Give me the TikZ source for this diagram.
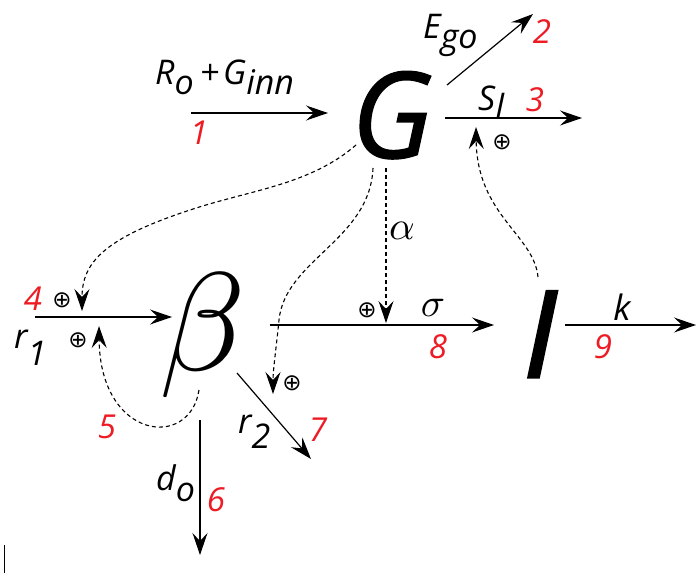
\documentclass[tikz,border=0pt]{standalone}
\usepackage{graphicx}
\usepackage{fontspec}
\setmainfont{Open Sans}
\newfontfamily\heavyfont[FakeBold=2.5]{Open Sans}
\newfontfamily\gfont[FakeBold=1]{Open Sans}
\newfontfamily\symfont{DejaVu Sans}
\usetikzlibrary{arrows.meta,calc}
\definecolor{numred}{RGB}{237,28,36}
\tikzset{
 arr/.style={line width=1.2pt, -{Stealth[length=22pt,width=15pt,inset=8pt]}},
 darr/.style={line width=1.1pt, dash pattern=on 4pt off 3pt, -{Stealth[length=22pt,width=15pt,inset=8pt]}},
 lbl/.style={inner sep=0pt, anchor=base west, font=\fontsize{34}{34}\selectfont\itshape},
 num/.style={inner sep=0pt, text=numred, font=\fontsize{33}{33}\selectfont\itshape},
 opl/.style={inner sep=0pt, font=\symfont\fontsize{23}{23}\selectfont},
 greek/.style={inner sep=0pt},
 bigletter/.style={inner sep=0pt, anchor=base, font=\gfont\fontsize{120}{120}\selectfont\itshape},
}
\newcommand\lsub[2][0.3em]{\raisebox{-#1}{#2}}
\newcommand\opl{⊕}
\begin{document}
\begin{tikzpicture}[x=1pt,y=-1pt]
\useasboundingbox (0,0) rectangle (696,573);
% main nodes
\node[bigletter] (G) at (392,158) {G};
\node[bigletter, font=\heavyfont\fontsize{120}{120}\selectfont\itshape] (I) at (540,377) {I};
\node[inner sep=0pt, anchor=base] (B) at (203,370) {\scalebox{14}{$\beta$}};
% connector end points
\coordinate (a1s) at (191,113); \coordinate (a1e) at (328,113);
\coordinate (a2s) at (447,85);  \coordinate (a2e) at (533,14);
\coordinate (a3s) at (445,118); \coordinate (a3e) at (582,118);
\coordinate (a4s) at (35,317);  \coordinate (a4e) at (172,317);
\coordinate (a8s) at (270,325); \coordinate (a8e) at (494,325);
\coordinate (a9s) at (565,325); \coordinate (a9e) at (696,325);
\coordinate (a7s) at (237,373); \coordinate (a7e) at (311,459);
\coordinate (a6s) at (200,420); \coordinate (a6e) at (200,555);
\coordinate (d4s) at (356,145); \coordinate (d4e) at (82,311);
\coordinate (d5s) at (199,390); \coordinate (d5e) at (99,326);
\coordinate (d7s) at (373,168); \coordinate (d7e) at (273,394);
\coordinate (das) at (386,168); \coordinate (dae) at (386,323);
\coordinate (d3s) at (538,277); \coordinate (d3e) at (476,127);
% solid arrows
\draw[arr] (a1s) -- (a1e);
\draw[arr] (a2s) -- (a2e);
\draw[arr] (a3s) -- (a3e);
\draw[arr] (a4s) -- (a4e);
\draw[arr] (a8s) -- (a8e);
\draw[arr] (a9s) -- (a9e);
\draw[arr] (a7s) -- (a7e);
\draw[arr] (a6s) -- (a6e);
% dashed arrows
\draw[darr] (d4s) .. controls (310,185) and (250,190) .. (190,210) .. controls (105,238) and (82,262) .. (d4e);
\draw[darr] (d5s) .. controls (190,450) and (100,440) .. (d5e);
\draw[darr] (d7s) .. controls (370,240) and (285,260) .. (279,320) .. controls (276,350) and (273,370) .. (d7e);
\draw[darr] (das) -- (dae);
\draw[darr] (d3s) .. controls (534,235) and (477,215) .. (d3e);
% labels
\node[lbl] (lR) at (155,84) {R\lsub{o}\hspace{6pt}+\hspace{4pt}G\lsub{inn}};
\node[num] (n1) at (199,133) {1};
\node[lbl] (lE) at (423,38) {E\lsub{go}};
\node[num] (n2) at (542,32) {2};
\node[lbl] (lS) at (478,110) {S\lsub[0.22em]{I}};
\node[num] (n3) at (535,100) {3};
\node[opl] (p3) at (502,142) {\opl};
\node[num] (n4) at (33,299) {4};
\node[opl] (p4a) at (62,300) {\opl};
\node[lbl] (lr1) at (14,348) {r\lsub[0.5em]{1}};
\node[opl] (p4b) at (78,340) {\opl};
\node[num] (n5) at (107,427) {5};
\node[lbl] (lr2) at (238,433) {r\lsub[0.45em]{2}};
\node[num] (n7) at (318,430) {7};
\node[opl] (p7) at (292,383) {\opl};
\node[lbl] (ld) at (156,490) {d\lsub[0.35em]{o}};
\node[num] (n6) at (216,500) {6};
\node[greek] (la) at (402,231) {\scalebox{4}{$\alpha$}};
\node[opl] (p8) at (367,310) {\opl};
\node[greek] (ls) at (433,308) {\scalebox{4}{$\sigma$}};
\node[num] (n8) at (438,347) {8};
\node[inner sep=0pt, font=\fontsize{35}{35}\selectfont\itshape] (lk) at (622,307) {k};
\node[num] (n9) at (603,347) {9};
% cursor mark
\draw[line width=1pt] (4,545) -- (4,573);
\end{tikzpicture}
\end{document}
